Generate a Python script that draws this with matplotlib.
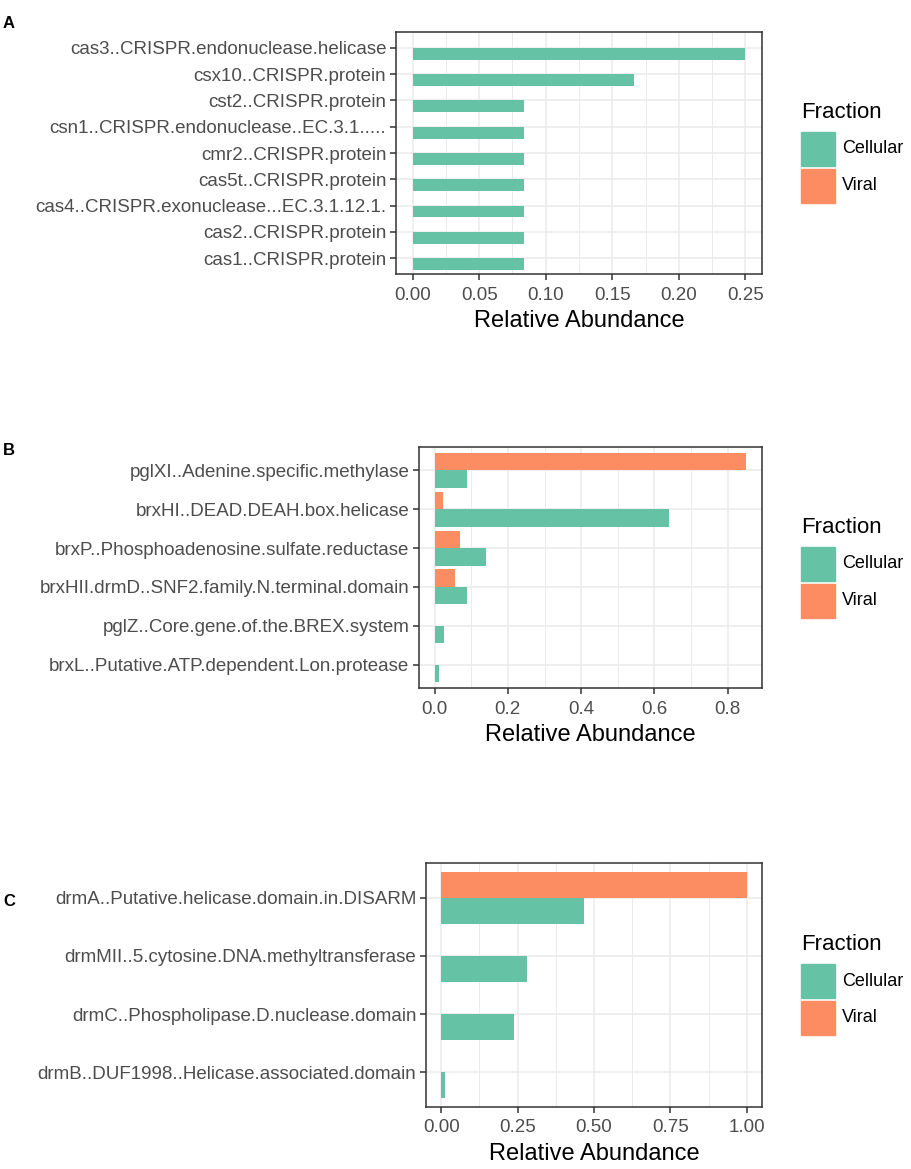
import numpy as np
import matplotlib
matplotlib.use("Agg")
import matplotlib.pyplot as plt
from matplotlib.patches import Rectangle

plt.rcParams['font.family'] = ['Liberation Sans', 'DejaVu Sans']

# ---- data (top to bottom as shown) ----
genes_a = ["cas3..CRISPR.endonuclease.helicase", "csx10..CRISPR.protein",
           "cst2..CRISPR.protein", "csn1..CRISPR.endonuclease..EC.3.1.....",
           "cmr2..CRISPR.protein", "cas5t..CRISPR.protein",
           "cas4..CRISPR.exonuclease...EC.3.1.12.1.", "cas2..CRISPR.protein",
           "cas1..CRISPR.protein"]
cell_a = [0.25, 0.1667, 0.0833, 0.0833, 0.0833, 0.0833, 0.0833, 0.0833, 0.0833]
viral_a = [0, 0, 0, 0, 0, 0, 0, 0, 0]

genes_b = ["pglXI..Adenine.specific.methylase", "brxHI..DEAD.DEAH.box.helicase",
           "brxP..Phosphoadenosine.sulfate.reductase",
           "brxHII.drmD..SNF2.family.N.terminal.domain",
           "pglZ..Core.gene.of.the.BREX.system",
           "brxL..Putative.ATP.dependent.Lon.protease"]
cell_b = [0.089, 0.640, 0.140, 0.089, 0.026, 0.013]
viral_b = [0.851, 0.024, 0.068, 0.057, 0, 0]

genes_c = ["drmA..Putative.helicase.domain.in.DISARM",
           "drmMII..5.cytosine.DNA.methyltransferase",
           "drmC..Phospholipase.D.nuclease.domain",
           "drmB..DUF1998..Helicase.associated.domain"]
cell_c = [0.466, 0.280, 0.239, 0.013]
viral_c = [1.0, 0, 0, 0]

xticks_a = [0, 0.05, 0.10, 0.15, 0.20, 0.25]
xticks_b = [0, 0.2, 0.4, 0.6, 0.8]
xticks_c = [0, 0.25, 0.5, 0.75, 1.0]
fmt_a, fmt_b, fmt_c = "{:.2f}", "{:.1f}", "{:.2f}"

CELL = "#66C2A5"
VIR = "#FC8D62"
W, H = 912, 1169

fig = plt.figure(figsize=(W / 100, H / 100), dpi=100)


def px_axes(left, top, right, bottom):
    return fig.add_axes([left / W, 1 - bottom / H, (right - left) / W, (bottom - top) / H])


def panel(box, letter, letter_y, genes, cell, viral, xticks, fmt):
    ax = px_axes(*box)
    n = len(genes)
    y = np.arange(n, 0, -1)
    ax.barh(y - 0.225, cell, height=0.45, color=CELL, zorder=3)
    ax.barh(y + 0.225, viral, height=0.45, color=VIR, zorder=3)
    xmax = max(max(cell), max(viral))
    pad = xmax * 0.05
    ax.set_xlim(-pad, xmax + pad)
    ax.set_ylim(0.4, n + 0.6)
    ax.set_yticks(y)
    ax.set_yticklabels(genes, fontsize=13.5, color="#4D4D4D")
    ax.set_xticks(xticks)
    ax.set_xticklabels([fmt.format(t) for t in xticks], fontsize=13.5, color="#4D4D4D")
    step = xticks[1] - xticks[0]
    minor = [t + step / 2 for t in [xticks[0] - step] + xticks]
    minor = [m for m in minor if -pad < m < xmax + pad]
    ax.set_xticks(minor, minor=True)
    ax.tick_params(which="minor", length=0)
    ax.tick_params(which="major", length=4, width=1.1, color="#333333", pad=3)
    ax.tick_params(axis="x", which="major", pad=5)
    ax.grid(which="major", color="#EBEBEB", lw=1.1, zorder=0)
    ax.grid(which="minor", axis="x", color="#EBEBEB", lw=0.7, zorder=0)
    for s in ax.spines.values():
        s.set_color("#333333")
        s.set_linewidth(1.1)
    ax.set_xlabel("Relative Abundance", fontsize=17, labelpad=5)
    fig.text(3 / W, 1 - letter_y / H, letter, fontsize=12, fontweight="bold", va="center")

    # legend, centred on the panel
    cy = (box[1] + box[3]) / 2
    fig.text(801 / W, 1 - (cy - 40) / H, "Fraction", fontsize=16, va="center")
    for i, (lab, col) in enumerate([("Cellular", CELL), ("Viral", VIR)]):
        top = cy - 21 + i * 37
        fig.patches.append(Rectangle((801 / W, 1 - (top + 34) / H), 34 / W, 34 / H,
                                     color=col, transform=fig.transFigure))
        fig.text(842 / W, 1 - (top + 17) / H, lab, fontsize=13, va="center")
    return ax


panel((396, 32, 762, 274), "A", 24, genes_a, cell_a, viral_a, xticks_a, fmt_a)
panel((419, 447, 762, 688), "B", 451, genes_b, cell_b, viral_b, xticks_b, fmt_b)
panel((426, 863, 762, 1107), "C", 901, genes_c, cell_c, viral_c, xticks_c, fmt_c)

fig.savefig("out.png", dpi=100)
